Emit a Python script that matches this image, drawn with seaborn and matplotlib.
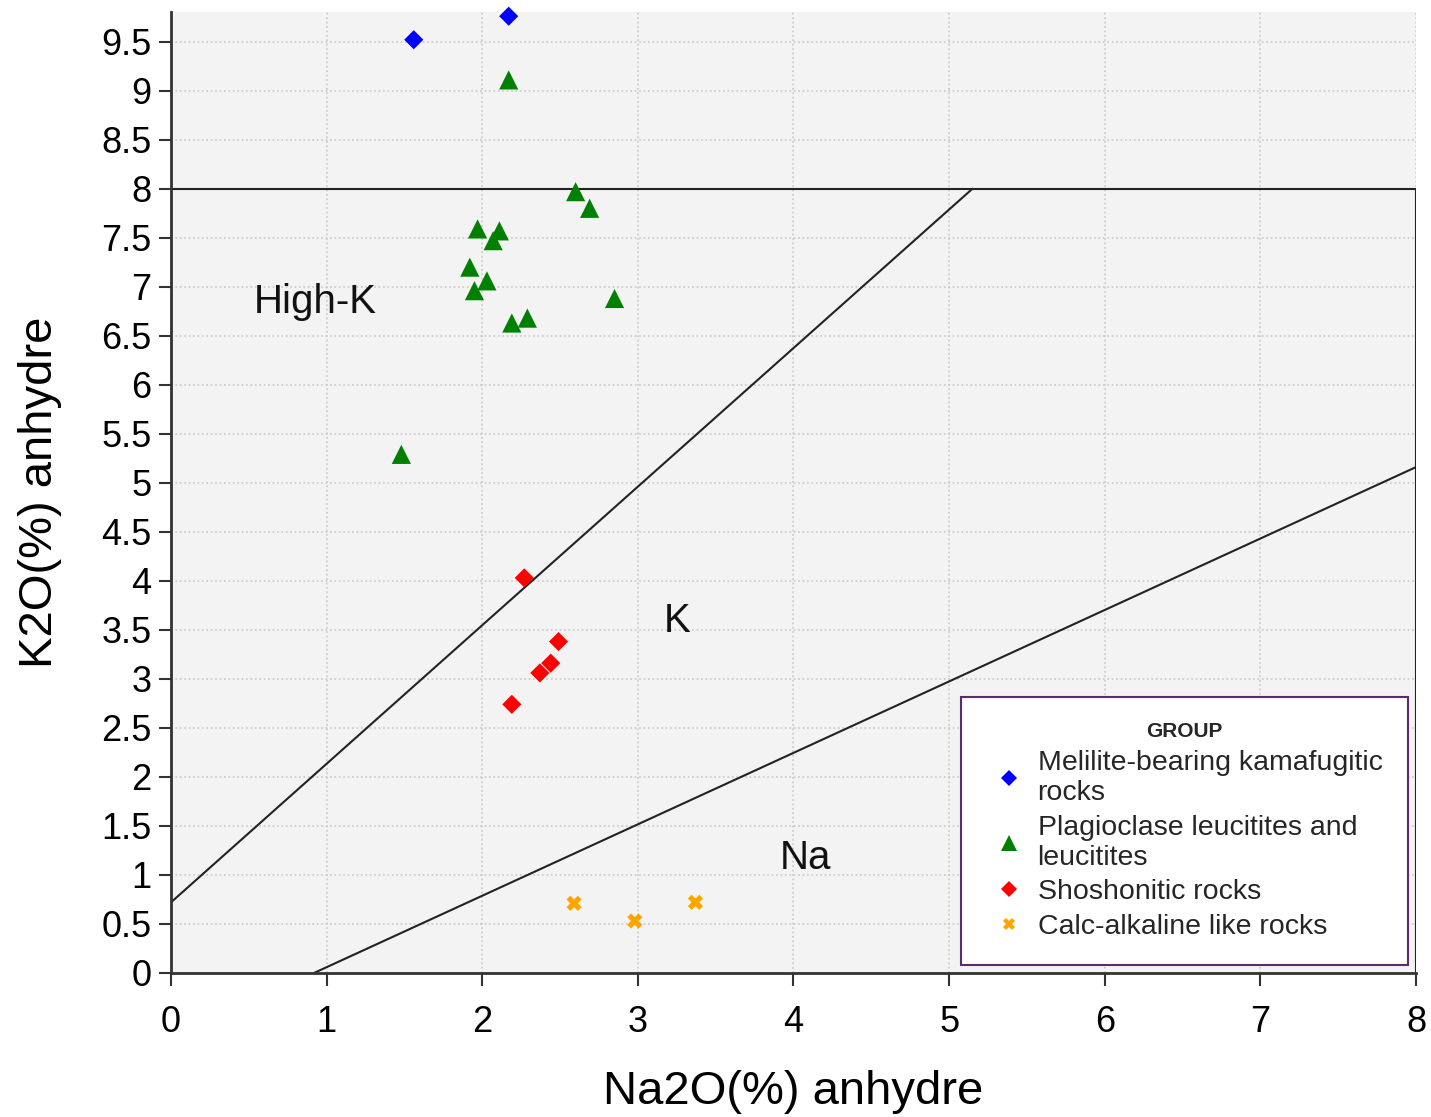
import matplotlib
matplotlib.use("Agg")
import matplotlib.pyplot as plt
import seaborn as sns
import pandas as pd

# Na2O / K2O (% anhydre) per rock group
melilite_na = [1.56, 2.17]
melilite_k = [9.52, 9.76]

leucitite_na = [2.17, 2.60, 2.69, 1.97, 2.11, 2.07, 1.92, 1.95, 2.03, 2.85, 2.19, 2.29, 1.48]
leucitite_k = [9.11, 7.97, 7.80, 7.59, 7.57, 7.47, 7.20, 6.96, 7.06, 6.88, 6.63, 6.68, 5.29]

shosho_na = [2.27, 2.49, 2.44, 2.37, 2.19]
shosho_k = [4.03, 3.38, 3.16, 3.06, 2.74]

calc_na = [2.59, 2.98, 3.37]
calc_k = [0.71, 0.53, 0.72]

groups = ["Melilite-bearing kamafugitic\nrocks",
          "Plagioclase leucitites and\nleucitites",
          "Shoshonitic rocks",
          "Calc-alkaline like rocks"]
colors = ["#0000ff", "#008000", "#ff0000", "#ffa500"]
markers = ["D", "^", "D", "X"]
marker_sizes = [95, 190, 95, 120]

# field boundaries
box_x = [0, 0, 8, 8]
box_y = [0, 8, 8, 0]
line1_x = [0, 5.15]
line1_y = [0.72, 8]
line2_x = [0.92, 8]
line2_y = [0, 5.16]
field_labels = ["High-K", "K", "Na"]
field_x = [0.93, 3.25, 4.08]
field_y = [6.84, 3.59, 1.17]

df = pd.concat([
    pd.DataFrame({"Na2O": melilite_na, "K2O": melilite_k, "GROUP": groups[0]}),
    pd.DataFrame({"Na2O": leucitite_na, "K2O": leucitite_k, "GROUP": groups[1]}),
    pd.DataFrame({"Na2O": shosho_na, "K2O": shosho_k, "GROUP": groups[2]}),
    pd.DataFrame({"Na2O": calc_na, "K2O": calc_k, "GROUP": groups[3]}),
])

sns.set_style("ticks")
plt.rcParams["font.family"] = ["Liberation Sans", "DejaVu Sans"]

fig = plt.figure(figsize=(14.31, 11.17), dpi=100)
ax = fig.add_axes([0.1195, 0.129, 0.870, 0.860])
ax.set_facecolor("#f3f3f3")

ax.grid(True, linestyle=":", color="#c8c8c8", linewidth=1.2)
ax.set_axisbelow(True)

ax.plot(box_x, box_y, color="#222222", linewidth=1.5, zorder=2)
ax.plot(line1_x, line1_y, color="#222222", linewidth=1.5, zorder=2)
ax.plot(line2_x, line2_y, color="#222222", linewidth=1.5, zorder=2)

for t, x, y in zip(field_labels, field_x, field_y):
    ax.text(x, y, t, fontsize=29, ha="center", va="center", color="#111111")

sns.scatterplot(data=df, x="Na2O", y="K2O", hue="GROUP", style="GROUP",
                size="GROUP",
                palette=dict(zip(groups, colors)),
                markers=dict(zip(groups, markers)),
                sizes=dict(zip(groups, marker_sizes)),
                linewidth=0, ax=ax, zorder=3, clip_on=False)

ax.set_xlim(0, 8)
ax.set_ylim(0, 9.8)
ax.set_xticks(range(0, 9))
yt = [i * 0.5 for i in range(20)]
ax.set_yticks(yt)
ax.set_yticklabels([f"{v:g}" for v in yt])
ax.tick_params(labelsize=26, length=9, width=1.5, color="#333333",
               labelcolor="black")
ax.tick_params(axis="x", pad=14)
ax.tick_params(axis="y", pad=5)

for side in ["top", "right"]:
    ax.spines[side].set_visible(False)
for side in ["left", "bottom"]:
    ax.spines[side].set_color("#333333")
    ax.spines[side].set_linewidth(2)

ax.set_xlabel("Na2O(%) anhydre", fontsize=34, labelpad=22, color="black")
ax.set_ylabel("K2O(%) anhydre", fontsize=34, labelpad=28, color="black")

handles, labels = ax.get_legend_handles_labels()
leg = ax.legend(handles, labels, title="GROUP", loc="lower right",
                bbox_to_anchor=(0.9936, 0.008), borderaxespad=0, fontsize=20.5,
                title_fontproperties={"weight": "bold", "size": 15},
                frameon=True, fancybox=False, framealpha=1,
                edgecolor="#5a2d6a", handletextpad=0.2, handlelength=1.6,
                labelspacing=0.3, borderpad=0.9, markerscale=0.8)
leg.get_frame().set_linewidth(1.5)
leg.set_zorder(5)

fig.savefig("out.png", dpi=100)
